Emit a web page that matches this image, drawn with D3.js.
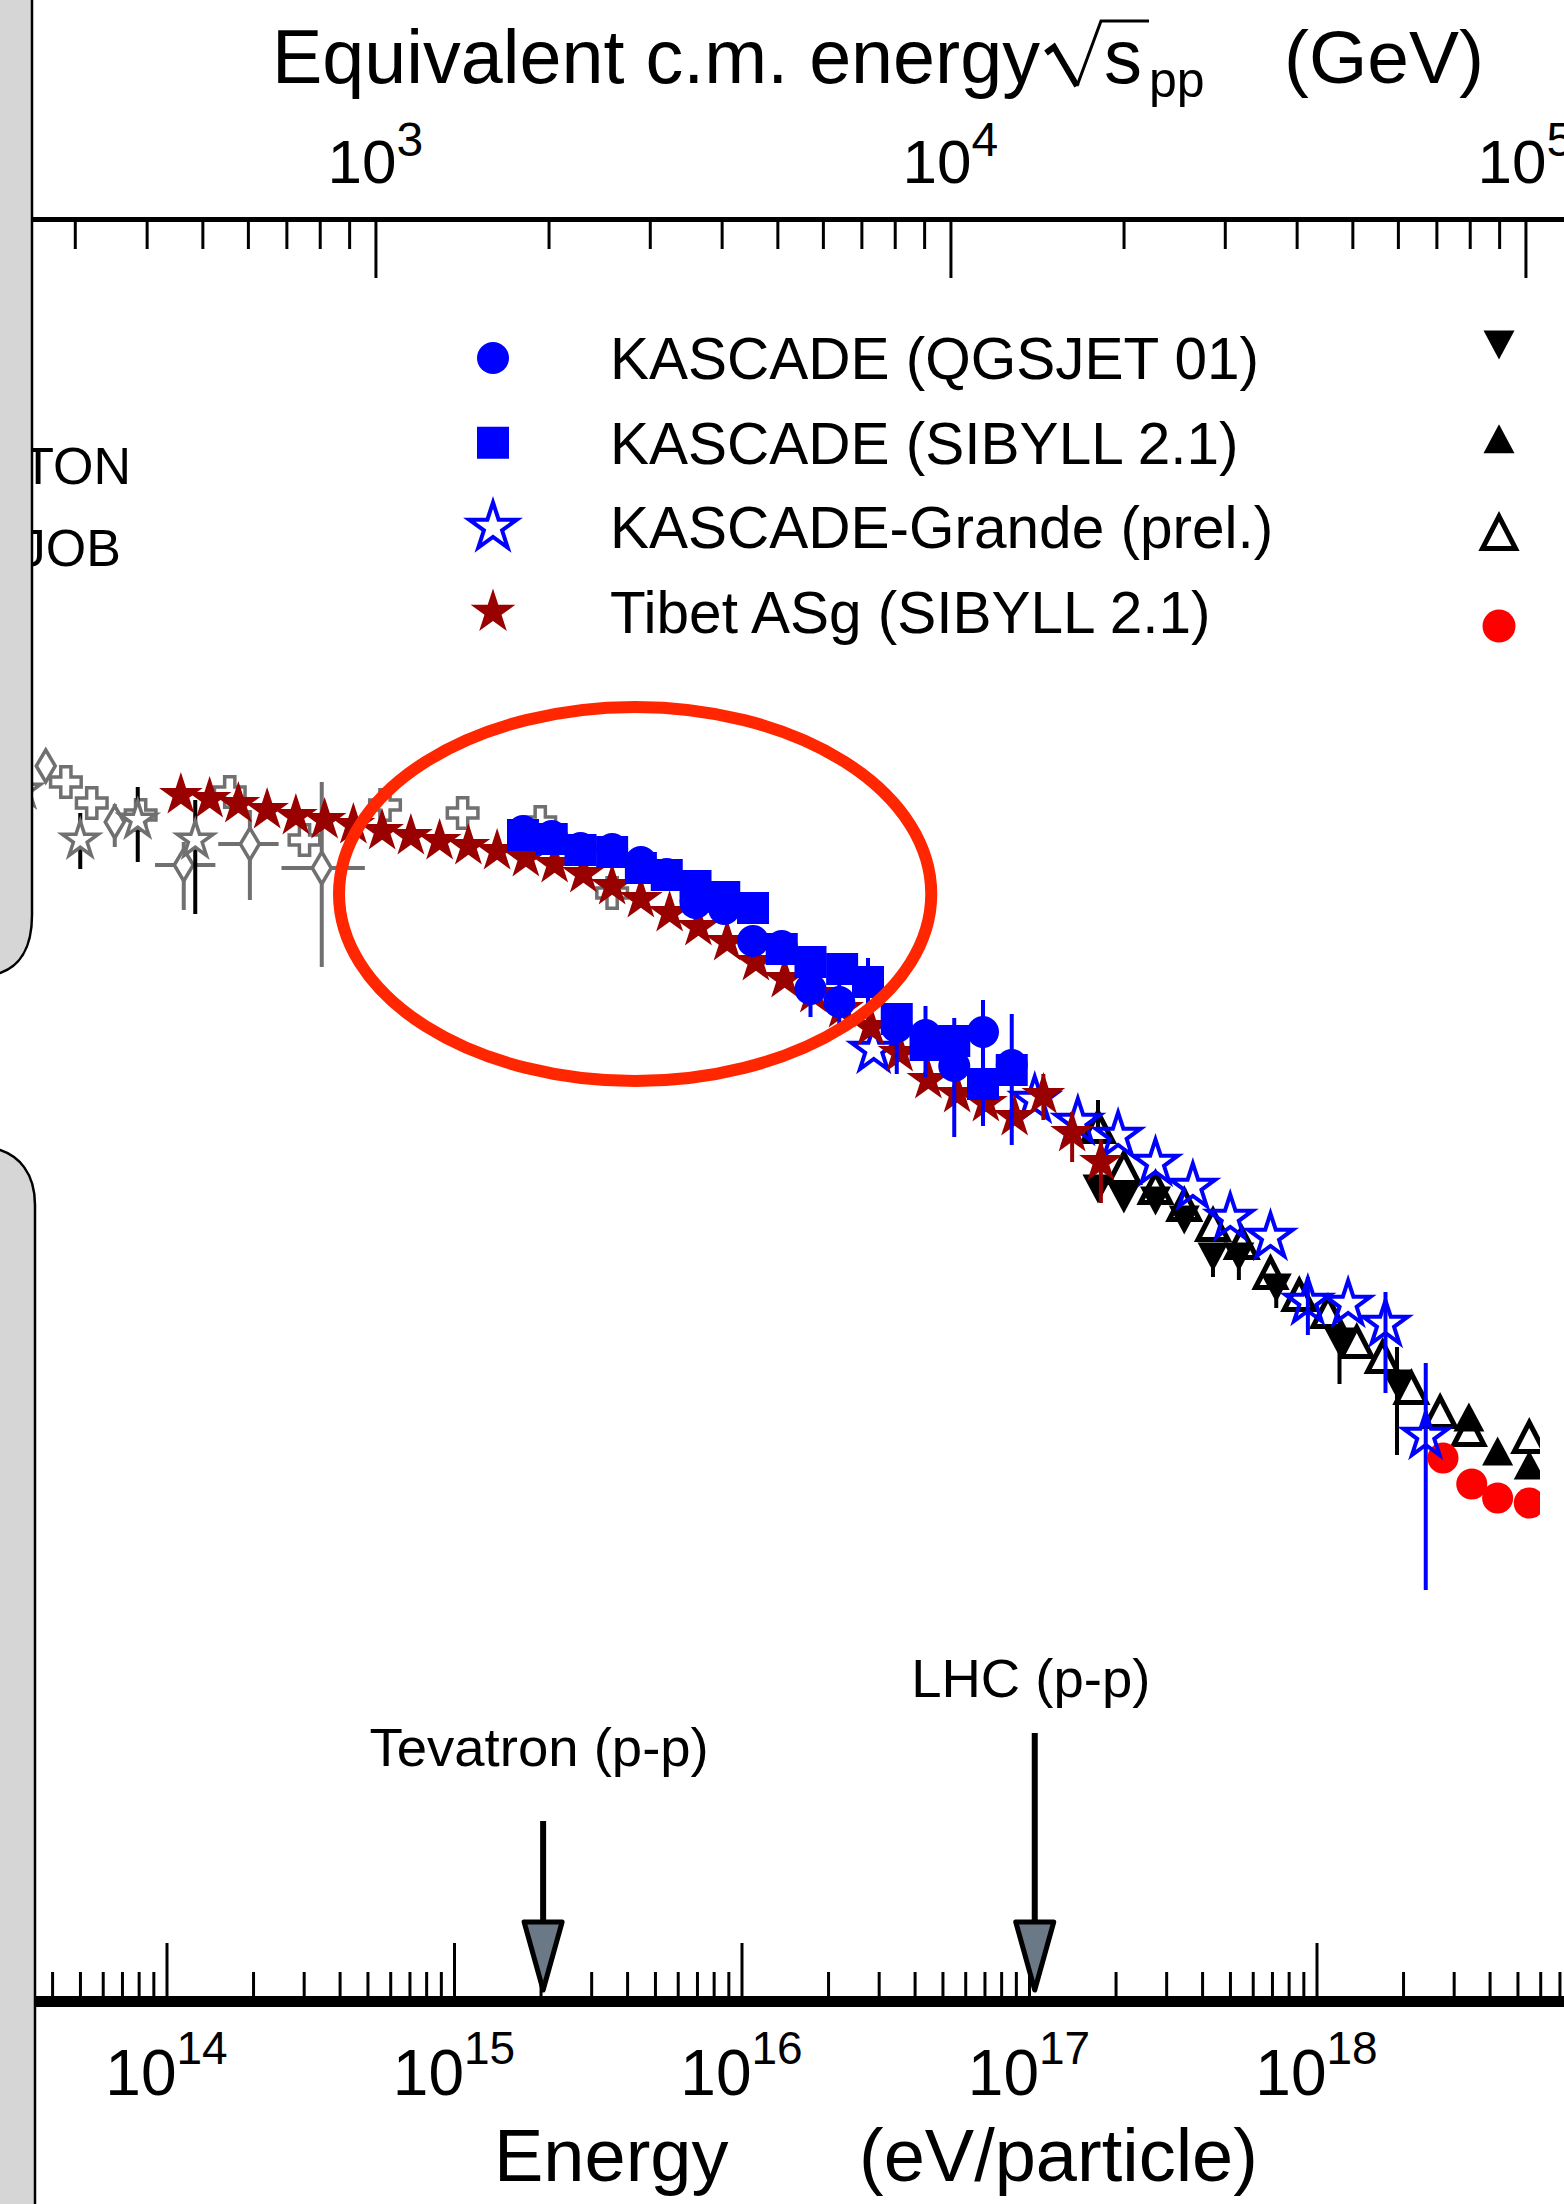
<!DOCTYPE html>
<html>
<head>
<meta charset="utf-8">
<script src="https://cdn.jsdelivr.net/npm/d3@7"></script>
<style>
	html, body { margin: 0; padding: 0; background: #fff; }
	svg { display: block; font-family: "Liberation Sans", Arial, Helvetica, sans-serif; }
</style>
</head>
<body>
<div id="chart"></div>
<script>

///////////////////////////////////////////////////////////////////////
// data: [ lg E (eV), lg flux*E^2.5 (arb.), lg lo, lg hi, lgE lo, lgE hi ]

const kascadeQgsjet = [
	[15.24, 3.669], [15.34, 3.664], [15.44, 3.652], [15.55, 3.651],
	[15.65, 3.638], [15.74, 3.626], [15.84, 3.597], [15.94, 3.591],
	[16.04, 3.559], [16.14, 3.554],
	[16.24, 3.511, 3.483, 3.527], [16.34, 3.498, 3.465, 3.515],
	[16.44, 3.518, 3.490, 3.542], [16.54, 3.473, 3.426, 3.484],
	[16.64, 3.465, 3.423, 3.494], [16.74, 3.434, 3.363, 3.482],
	[16.84, 3.468, 3.374, 3.500], [16.94, 3.435, 3.355, 3.486]
];

const kascadeSibyll = [
	[15.24, 3.665], [15.34, 3.661], [15.44, 3.650], [15.55, 3.648],
	[15.65, 3.632], [15.74, 3.625], [15.84, 3.614], [15.94, 3.603],
	[16.04, 3.592], [16.14, 3.551], [16.24, 3.538], [16.35, 3.531],
	[16.44, 3.518], [16.54, 3.481], [16.64, 3.455], [16.74, 3.459],
	[16.84, 3.416], [16.94, 3.430]
];

const kascadeGrande = [
	[16.46, 3.450], [17.02, 3.400], [17.17, 3.378], [17.31, 3.364],
	[17.44, 3.337], [17.57, 3.313], [17.70, 3.282], [17.84, 3.263],
	[17.97, 3.198, 3.165, 3.223], [18.11, 3.196],
	[18.24, 3.176, 3.107, 3.208], [18.38, 3.064, 2.910, 3.137]
];

const tibetAsg = [
	[14.05, 3.705], [14.15, 3.701], [14.25, 3.696], [14.35, 3.690],
	[14.45, 3.684], [14.55, 3.680], [14.65, 3.675], [14.75, 3.669],
	[14.85, 3.664], [14.95, 3.659], [15.05, 3.654], [15.15, 3.649],
	[15.25, 3.642], [15.35, 3.636], [15.45, 3.626], [15.55, 3.614],
	[15.65, 3.601], [15.75, 3.587], [15.85, 3.573], [15.95, 3.558],
	[16.05, 3.538], [16.15, 3.521], [16.25, 3.506], [16.35, 3.491],
	[16.45, 3.473], [16.55, 3.447], [16.65, 3.420], [16.75, 3.406],
	[16.85, 3.397], [16.95, 3.383],
	[17.05, 3.405, 3.380, 3.426], [17.15, 3.367, 3.338, 3.388],
	[17.25, 3.338, 3.297, 3.361]
];

// right legend column (labels out of frame)
const triDownFilled = [
	[17.24, 3.311], [17.33, 3.301], [17.44, 3.299], [17.54, 3.280],
	[17.64, 3.243, 3.223, 3.243], [17.73, 3.243, 3.220, 3.243],
	[17.86, 3.212, 3.192, 3.212], [18.08, 3.158, 3.116, 3.177],
	[18.28, 3.116, 3.045, 3.153]
];

const triUpFilled = [ [18.53, 3.083], [18.63, 3.049], [18.74, 3.035] ];

const triUpOpen = [
	[17.24, 3.373, 3.373, 3.400], [17.33, 3.332], [17.44, 3.312], [17.54, 3.295],
	[17.64, 3.275], [17.74, 3.257], [17.84, 3.227], [17.94, 3.205],
	[18.04, 3.188], [18.14, 3.158], [18.23, 3.143], [18.33, 3.112],
	[18.43, 3.088], [18.53, 3.070], [18.74, 3.063]
];

const redDots = [ [18.44, 3.042], [18.54, 3.016], [18.63, 3.002], [18.74, 2.997] ];

// left legend column (direct measurements, mostly out of frame)
const greyDiamonds = [
	[13.58, 3.734],
	[13.82, 3.678, 3.653, 3.696],
	[14.06, 3.635, 3.590, 3.658, 13.96, 14.17],
	[14.29, 3.656, 3.600, 3.690, 14.18, 14.39],
	[14.54, 3.632, 3.533, 3.718, 14.40, 14.69]
];

const greyCrosses = [
	[13.65, 3.718], [13.74, 3.697], [13.91, 3.685], [14.22, 3.708],
	[14.48, 3.660], [14.76, 3.695], [15.03, 3.687], [15.30, 3.678],
	[15.55, 3.607]
];

const greyStars = [
	[13.50, 3.710], [13.70, 3.660, 3.631, 3.687],
	[13.90, 3.680, 3.638, 3.713], [14.10, 3.660, 3.586, 3.700]
];

const legendLabels = [ "KASCADE (QGSJET 01)", "KASCADE (SIBYLL 2.1)", "KASCADE-Grande (prel.)", "Tibet ASg (SIBYLL 2.1)" ];
const cutLegendLabels = [ "PROTON", "RUNJOB" ];

const colliders = [ "Tevatron (p-p)", "LHC (p-p)" ];
const colliderLgE = [ 15.31, 17.02 ];

const bottomDecades = [ 14, 15, 16, 17, 18 ];
const topDecades = [ 3, 4, 5 ];

const kneeCenter = [ 15.63, 3.606 ];	// lgE, lgF
const kneeRadius = [ 1.03, 0.187 ];

///////////////////////////////////////////////////////////////////////

const W = 1564, H = 2204;
const PROTON_MASS = 0.938;	// GeV

const xE = d3.scaleLog().domain( [ 1e14, 1e18 ] ).range( [ 166.5, 1316.5 ] );
const x = lg => xE( Math.pow( 10, lg ) );
const y = d3.scaleLinear().domain( [ 3, 4 ] ).range( [ 1500, 500 ] );

const sqrtS = e => Math.sqrt( 2 * PROTON_MASS * e / 1e9 );

const svg = d3.select( "#chart" )
	.append( "svg" )
	.attr( "width", W )
	.attr( "height", H );

svg.append( "rect" ).attr( "width", W ).attr( "height", H ).attr( "fill", "#fff" );

svg.append( "defs" ).append( "clipPath" )
	.attr( "id", "plotclip" )
	.append( "rect" )
		.attr( "x", 0 ).attr( "y", 230 )
		.attr( "width", 1540 ).attr( "height", 1700 );

// marker shapes
const starPath = R => d3.symbol( d3.symbolStar, R * R / 0.8908130915292852 )();
const circlePath = r => d3.symbol( d3.symbolCircle, Math.PI * r * r )();
const squarePath = s => d3.symbol( d3.symbolSquare, s * s )();
const crossPath = s => d3.symbol( d3.symbolCross, s )();
function diamondPath( w, h )	{
	return `M0,${-h/2}L${w/2},0L0,${h/2}L${-w/2},0Z`;
}
function triPath( w, h, down )	{
	let s = down ? -1 : 1;
	return `M0,${-s*h/2}L${w/2},${s*h/2}L${-w/2},${s*h/2}Z`;
}

const styles = {
	grande:   { d: starPath( 23.5 ), fill: "none", stroke: "#0000ff", sw: 4, err: "#0000ff" },
	tibet:    { d: starPath( 23 ), fill: "#990000", err: "#990000" },
	qgsjet:   { d: circlePath( 16 ), fill: "#0000ff", err: "#0000ff" },
	sibyll:   { d: squarePath( 32 ), fill: "#0000ff", err: "#0000ff" },
	triDown:  { d: triPath( 31, 29, true ), fill: "#000", err: "#000" },
	triUp:    { d: triPath( 31, 29, false ), fill: "#000", err: "#000" },
	triOpen:  { d: triPath( 30, 29, false ), fill: "none", stroke: "#000", sw: 5, err: "#000" },
	red:      { d: circlePath( 15.5 ), fill: "#ff0000", err: "#ff0000" },
	gDiamond: { d: diamondPath( 19, 32 ), fill: "#fff", stroke: "#707070", sw: 3.5, err: "#707070" },
	gCross:   { d: crossPath( 520 ), fill: "#fff", stroke: "#707070", sw: 3.5, err: "#707070" },
	gStar:    { d: starPath( 19 ), fill: "#fff", stroke: "#707070", sw: 3.5, err: "#000" }
};

function drawSeries( parent, data, st )	{

	let g = parent.append( "g" );

	g.selectAll( null )
		.data( data.filter( d => d.length >= 4 ) )
		.join( "line" )
			.attr( "x1", d => x( d[ 0 ] ) ).attr( "x2", d => x( d[ 0 ] ) )
			.attr( "y1", d => y( d[ 2 ] ) ).attr( "y2", d => y( d[ 3 ] ) )
			.attr( "stroke", st.err )
			.attr( "stroke-width", 4 );

	g.selectAll( null )
		.data( data.filter( d => d.length >= 6 ) )
		.join( "line" )
			.attr( "x1", d => x( d[ 4 ] ) ).attr( "x2", d => x( d[ 5 ] ) )
			.attr( "y1", d => y( d[ 1 ] ) ).attr( "y2", d => y( d[ 1 ] ) )
			.attr( "stroke", st.err )
			.attr( "stroke-width", 4 );

	g.selectAll( null )
		.data( data )
		.join( "path" )
			.attr( "transform", d => "translate(" + x( d[ 0 ] ) + "," + y( d[ 1 ] ) + ")" )
			.attr( "d", st.d )
			.attr( "fill", st.fill )
			.attr( "stroke", st.stroke || "none" )
			.attr( "stroke-width", st.sw || 0 );
	return( g );
}

function marker( parent, px, py, st )	{
	parent.append( "path" )
		.attr( "transform", "translate(" + px + "," + py + ")" )
		.attr( "d", st.d )
		.attr( "fill", st.fill )
		.attr( "stroke", st.stroke || "none" )
		.attr( "stroke-width", st.sw || 0 );
}

///////////////////////////////////////////////////////////////////////
// data

const plot = svg.append( "g" ).attr( "clip-path", "url(#plotclip)" );

drawSeries( plot, greyCrosses, styles.gCross );
drawSeries( plot, greyDiamonds, styles.gDiamond );
drawSeries( plot, greyStars, styles.gStar );
drawSeries( plot, triDownFilled, styles.triDown );
drawSeries( plot, triUpOpen, styles.triOpen );
drawSeries( plot, triUpFilled, styles.triUp );
drawSeries( plot, redDots, styles.red );
drawSeries( plot, kascadeGrande, styles.grande );
drawSeries( plot, tibetAsg, styles.tibet );
drawSeries( plot, kascadeQgsjet, styles.qgsjet );
drawSeries( plot, kascadeSibyll, styles.sibyll );

// knee highlight
plot.append( "ellipse" )
	.attr( "cx", x( kneeCenter[ 0 ] ) )
	.attr( "cy", y( kneeCenter[ 1 ] ) )
	.attr( "rx", x( kneeCenter[ 0 ] + kneeRadius[ 0 ] ) - x( kneeCenter[ 0 ] ) )
	.attr( "ry", y( kneeCenter[ 1 ] ) - y( kneeCenter[ 1 ] + kneeRadius[ 1 ] ) )
	.attr( "fill", "none" )
	.attr( "stroke", "#ff2600" )
	.attr( "stroke-width", 12 );

///////////////////////////////////////////////////////////////////////
// legends

const leg = svg.append( "g" );
const legStyles = [ styles.qgsjet, styles.sibyll,
	Object.assign( {}, styles.grande, { d: starPath( 25 ) } ),
	Object.assign( {}, styles.tibet, { d: starPath( 23.5 ) } ) ];

legendLabels.forEach( ( lab, i ) => {
	let ry = 358 + i * 84.7;
	marker( leg, 493, ry, legStyles[ i ] );
	leg.append( "text" )
		.attr( "x", 610 ).attr( "y", ry + 21 )
		.attr( "font-size", 58.5 )
		.text( lab );
} );

[ styles.triDown, styles.triUp,
	Object.assign( {}, styles.triOpen, { d: triPath( 33, 32, false ) } ),
	Object.assign( {}, styles.red, { d: circlePath( 16.5 ) } ) ]
	.forEach( ( st, i ) => marker( leg, 1499, 345 + i * 93.7, st ) );

cutLegendLabels.forEach( ( lab, i ) => {
	leg.append( "text" )
		.attr( "x", 131 - i * 10 ).attr( "y", 484 + i * 82 )
		.attr( "text-anchor", "end" )
		.attr( "font-size", 52 )
		.text( lab );
} );

///////////////////////////////////////////////////////////////////////
// axes

const isDecade = v => { let l = Math.log10( v ); return Math.abs( l - Math.round( l ) ) < 1e-6; };

function decadeLabel( sel, exps, scale, yBase, big, small, dy )	{
	exps.forEach( e => {
		let t = sel.append( "text" )
			.attr( "x", scale( Math.pow( 10, e ) ) )
			.attr( "y", yBase )
			.attr( "text-anchor", "middle" )
			.attr( "fill", "#000" );
		t.append( "tspan" ).attr( "font-size", big ).text( "10" );
		t.append( "tspan" ).attr( "font-size", small ).attr( "dy", dy ).text( e );
	} );
}

// bottom: energy per particle
const xAxis = d3.scaleLog().domain( [ xE.invert( 35 ), xE.invert( W ) ] ).range( [ 35, W ] );
const gx = svg.append( "g" )
	.attr( "transform", "translate(0,2001)" )
	.call( d3.axisBottom( xAxis ).tickValues( xAxis.ticks() ).tickSizeInner( -29 ).tickSizeOuter( 0 ).tickFormat( "" ) )
	.attr( "font-family", null ).attr( "font-size", null );
gx.select( ".domain" ).attr( "stroke", "#000" ).attr( "stroke-width", 11 );
gx.selectAll( ".tick line" )
	.attr( "stroke", "#000" ).attr( "stroke-width", 3 )
	.attr( "y2", d => isDecade( d ) ? -58 : -29 );
gx.selectAll( ".tick text" ).remove();

decadeLabel( svg.append( "g" ), bottomDecades, xAxis, 2095, 64, 46, -31 );

// top: equivalent c.m. energy
const xTop = d3.scaleLog().domain( [ sqrtS( xE.invert( 32 ) ), sqrtS( xE.invert( W ) ) ] ).range( [ 32, W ] );
const gt = svg.append( "g" )
	.attr( "transform", "translate(0,219)" )
	.call( d3.axisTop( xTop ).tickValues( xTop.ticks() ).tickSizeInner( -29 ).tickSizeOuter( 0 ).tickFormat( "" ) )
	.attr( "font-family", null ).attr( "font-size", null );
gt.select( ".domain" ).attr( "stroke", "#000" ).attr( "stroke-width", 5 );
gt.selectAll( ".tick line" )
	.attr( "stroke", "#000" ).attr( "stroke-width", 3 )
	.attr( "y2", d => isDecade( d ) ? 59 : 30 );
gt.selectAll( ".tick text" ).remove();

decadeLabel( svg.append( "g" ), topDecades, xTop, 183, 62, 48, -27 );

// axis titles
const ttl = svg.append( "g" ).attr( "fill", "#000" );
ttl.append( "text" ).attr( "x", 272 ).attr( "y", 83 ).attr( "font-size", 75.5 ).text( "Equivalent c.m. energy" );
ttl.append( "path" )
	.attr( "d", "M1046,53 L1054,47 L1077,86" )
	.attr( "fill", "none" ).attr( "stroke", "#000" ).attr( "stroke-width", 6 );
ttl.append( "path" )
	.attr( "d", "M1077,86 L1101,21 L1149,21" )
	.attr( "fill", "none" ).attr( "stroke", "#000" ).attr( "stroke-width", 3 );
ttl.append( "text" ).attr( "x", 1104 ).attr( "y", 83 ).attr( "font-size", 76 ).text( "s" );
ttl.append( "text" ).attr( "x", 1149 ).attr( "y", 97 ).attr( "font-size", 50 ).text( "pp" );
ttl.append( "text" ).attr( "x", 1284 ).attr( "y", 83 ).attr( "font-size", 75 ).text( "(GeV)" );

ttl.append( "text" ).attr( "x", 494 ).attr( "y", 2181 ).attr( "font-size", 74 ).text( "Energy" );
ttl.append( "text" ).attr( "x", 859 ).attr( "y", 2181 ).attr( "font-size", 74 ).text( "(eV/particle)" );

///////////////////////////////////////////////////////////////////////
// collider arrows

const arrowTop = [ 1821, 1733 ];
const arrowLabelY = [ 1766, 1697 ];
const ann = svg.append( "g" );
colliders.forEach( ( lab, i ) => {
	let ax = x( colliderLgE[ i ] );
	ann.append( "line" )
		.attr( "x1", ax ).attr( "x2", ax )
		.attr( "y1", arrowTop[ i ] ).attr( "y2", 1922 )
		.attr( "stroke", "#000" ).attr( "stroke-width", 6 );
	ann.append( "path" )
		.attr( "d", `M${ax-19},1922 L${ax+19},1922 L${ax},1990 Z` )
		.attr( "fill", "#6b7886" )
		.attr( "stroke", "#000" ).attr( "stroke-width", 5 )
		.attr( "stroke-linejoin", "round" );
	ann.append( "text" )
		.attr( "x", ax - 4 ).attr( "y", arrowLabelY[ i ] )
		.attr( "text-anchor", "middle" )
		.attr( "font-size", 54.5 )
		.text( lab );
} );

///////////////////////////////////////////////////////////////////////
// side panels of the slide

svg.append( "path" )
	.attr( "d", "M-5,-5 H32 V915 C32,950 18,967 0,973 H-5 Z" )
	.attr( "fill", "#d6d6d6" ).attr( "stroke", "#000" ).attr( "stroke-width", 2.5 );
svg.append( "path" )
	.attr( "d", "M-5,1150 H0 C18,1156 35,1172 35,1205 V2215 H-5 Z" )
	.attr( "fill", "#d6d6d6" ).attr( "stroke", "#000" ).attr( "stroke-width", 2.5 );

</script>
</body>
</html>
